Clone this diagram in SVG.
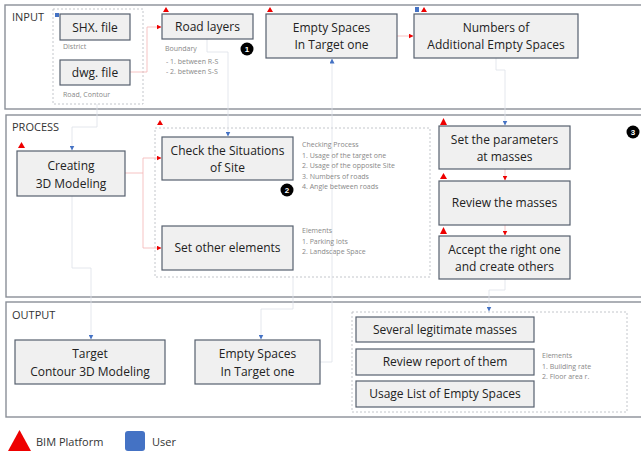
<svg xmlns="http://www.w3.org/2000/svg" width="641" height="451" viewBox="0 0 641 451">
<defs>
<style>
.panel{fill:#ffffff;stroke:#8a8f98;stroke-width:1.4}
.plabel{font-family:"Open Sans","Liberation Sans",sans-serif;font-size:11px;fill:#333}
.box{fill:#f0f0f0;stroke:#56606e;stroke-width:1.2}
.bt{font-family:"Open Sans","Liberation Sans",sans-serif;font-size:12px;fill:#222;text-anchor:middle}
.note{font-family:"Open Sans","Liberation Sans",sans-serif;font-size:7px;fill:#888}
.dash{fill:none;stroke:#b4b8be;stroke-width:0.8;stroke-dasharray:2,2}
.con{fill:none;stroke:#dde1e8;stroke-width:0.8}
.rcon{fill:none;stroke:#f4b4b4;stroke-width:0.8}
.tri{fill:#ee0000}
.usr{fill:#4472c4}
.badge{fill:#000}
.bn{font-family:"Liberation Sans",sans-serif;font-size:8px;font-weight:bold;fill:#fff;text-anchor:middle}
.leg{font-family:"Open Sans","Liberation Sans",sans-serif;font-size:11px;fill:#333}
</style>
<marker id="ab" markerWidth="5" markerHeight="5" refX="4.5" refY="2.5" orient="auto" markerUnits="userSpaceOnUse"><path d="M0,0 L5,2.5 L0,5 Z" fill="#4472c4"/></marker>
<marker id="ar" markerWidth="5" markerHeight="5" refX="4.5" refY="2.5" orient="auto" markerUnits="userSpaceOnUse"><path d="M0,0 L5,2.5 L0,5 Z" fill="#ee0000"/></marker>
</defs>

<g id="panels">
<rect class="panel" x="5" y="5" width="640" height="104"/>
<text class="plabel" x="12" y="21">INPUT</text>
<rect class="panel" x="6" y="115" width="640" height="182"/>
<text class="plabel" x="12" y="131">PROCESS</text>
<rect class="panel" x="6" y="302" width="640" height="115"/>
<text class="plabel" x="12" y="319">OUTPUT</text>
</g>

<g id="containers">
<rect class="dash" x="53" y="9" width="90" height="95"/>
<rect class="dash" x="155" y="128" width="275" height="149"/>
<rect class="dash" x="352" y="312" width="275" height="100"/>
</g>

<g id="connectors">
<path class="rcon" d="M130,72 H147 V27 H161" marker-end="url(#ar)"/>
<path class="con" d="M207,39 V52 H228 V136" marker-end="url(#ab)"/>
<path class="rcon" d="M397,36 H413" marker-end="url(#ar)"/>
<path class="con" d="M496,58 V70 H505 V125" marker-end="url(#ab)"/>
<path class="con" d="M97,104 V127 H72 V150" marker-end="url(#ab)"/>
<path class="rcon" d="M125,173 H143 V158 H161" marker-end="url(#ar)"/>
<path class="rcon" d="M143,173 V248 H161" marker-end="url(#ar)"/>
<path class="con" d="M72,196 V268 H91 V339" marker-end="url(#ab)"/>
<path class="con" d="M293,277 V309 H261 V339" marker-end="url(#ab)"/>
<path class="con" d="M320,362 H332 V59" marker-end="url(#ab)"/>
<path class="rcon" d="M505,169 V180" marker-end="url(#ar)"/>
<path class="rcon" d="M505,225 V235" marker-end="url(#ar)"/>
<path class="con" d="M505,279 V290 H489 V311" marker-end="url(#ab)"/>
</g>

<g id="input-marks">
<rect class="usr" x="55" y="13" width="4" height="4"/>
<path class="tri" d="M163,12 L169,12 L166,7 Z"/>
<path class="tri" d="M267,12 L273,12 L270,7 Z"/>
<rect class="usr" x="415" y="7" width="4" height="5"/>
<path class="tri" d="M421,12 L427,12 L424,7 Z"/>
</g>

<g id="shx">
<rect class="box" x="60" y="14" width="70" height="26"/>
<text class="bt" x="95" y="32">SHX. file</text>
<text class="note" x="63" y="49">District</text>
</g>
<g id="dwg">
<rect class="box" x="60" y="60" width="70" height="25"/>
<text class="bt" x="95" y="77">dwg. file</text>
<text class="note" x="63" y="97">Road, Contour</text>
</g>
<g id="road">
<rect class="box" x="162" y="14" width="91" height="25"/>
<text class="bt" x="207.5" y="31">Road layers</text>
<text class="note" x="165" y="51">Boundary</text>
<text class="note" x="166" y="64"> - 1. between R-S</text>
<text class="note" x="166" y="74"> - 2. between S-S</text>
</g>
<g id="badge1"><circle class="badge" cx="247" cy="49" r="6.5"/><text class="bn" x="247" y="52">1</text></g>
<g id="empty-in">
<rect class="box" x="266" y="14" width="131" height="44"/>
<text class="bt" x="331.5" y="32">Empty Spaces</text>
<text class="bt" x="331.5" y="49">In Target one</text>
</g>
<g id="numbers">
<rect class="box" x="414" y="14" width="164" height="44"/>
<text class="bt" x="496" y="32">Numbers of</text>
<text class="bt" x="496" y="49">Additional Empty Spaces</text>
</g>

<g id="process-marks">
<path class="tri" d="M157,125 L163,125 L160,120 Z"/>
<path class="tri" d="M18,148 L25,148 L21.5,142 Z"/>
<path class="tri" d="M440,125 L447,125 L443.5,118 Z"/>
<path class="tri" d="M440,179 L447,179 L443.5,173 Z"/>
<path class="tri" d="M440,234 L447,234 L443.5,227 Z"/>
</g>

<g id="creating">
<rect class="box" x="17" y="151" width="108" height="45"/>
<text class="bt" x="71" y="170">Creating</text>
<text class="bt" x="71" y="188">3D Modeling</text>
</g>
<g id="check">
<rect class="box" x="162" y="137" width="131" height="43"/>
<text class="bt" x="227.5" y="155">Check the Situations</text>
<text class="bt" x="227.5" y="172">of Site</text>
</g>
<g id="badge2"><circle class="badge" cx="287" cy="190" r="6.5"/><text class="bn" x="287" y="193">2</text></g>
<g id="checking-notes">
<text class="note" x="302" y="147">Checking Process</text>
<text class="note" x="302" y="158">1. Usage of the target one</text>
<text class="note" x="302" y="168">2. Usage of the opposite Site</text>
<text class="note" x="302" y="179">3. Numbers of roads</text>
<text class="note" x="302" y="189">4. Angle between roads</text>
</g>
<g id="setother">
<rect class="box" x="162" y="226" width="131" height="44"/>
<text class="bt" x="227.5" y="252">Set other elements</text>
</g>
<g id="elements-notes">
<text class="note" x="302" y="233">Elements</text>
<text class="note" x="302" y="244">1. Parking lots</text>
<text class="note" x="302" y="254">2. Landscape Space</text>
</g>
<g id="setparam">
<rect class="box" x="439" y="126" width="131" height="43"/>
<text class="bt" x="504.5" y="144">Set the parameters</text>
<text class="bt" x="504.5" y="161">at masses</text>
</g>
<g id="review">
<rect class="box" x="439" y="181" width="131" height="44"/>
<text class="bt" x="504.5" y="207">Review the masses</text>
</g>
<g id="accept">
<rect class="box" x="439" y="236" width="131" height="43"/>
<text class="bt" x="504.5" y="254">Accept the right one</text>
<text class="bt" x="504.5" y="271">and create others</text>
</g>
<g id="badge3"><circle class="badge" cx="633" cy="132" r="6.5"/><text class="bn" x="633" y="135">3</text></g>

<g id="target">
<rect class="box" x="15" y="340" width="150" height="44"/>
<text class="bt" x="90" y="358">Target</text>
<text class="bt" x="90" y="376">Contour 3D Modeling</text>
</g>
<g id="empty-out">
<rect class="box" x="195" y="340" width="125" height="44"/>
<text class="bt" x="257.5" y="358">Empty Spaces</text>
<text class="bt" x="257.5" y="376">In Target one</text>
</g>
<g id="several">
<rect class="box" x="356" y="317" width="178" height="25"/>
<text class="bt" x="445" y="334">Several legitimate masses</text>
</g>
<g id="reviewreport">
<rect class="box" x="356" y="349" width="178" height="26"/>
<text class="bt" x="445" y="366">Review report of them</text>
</g>
<g id="usage">
<rect class="box" x="356" y="381" width="178" height="26"/>
<text class="bt" x="445" y="398">Usage List of Empty Spaces</text>
</g>
<g id="out-notes">
<text class="note" x="542" y="358">Elements</text>
<text class="note" x="542" y="369">1. Building rate</text>
<text class="note" x="542" y="379">2. Floor area r.</text>
</g>

<g id="legend">
<path class="tri" d="M8,451 L31,451 L19.5,430 Z"/>
<text class="leg" x="36" y="446">BIM Platform</text>
<rect class="usr" x="125" y="431" width="20" height="20" rx="3"/>
<text class="leg" x="152" y="446">User</text>
</g>
</svg>
